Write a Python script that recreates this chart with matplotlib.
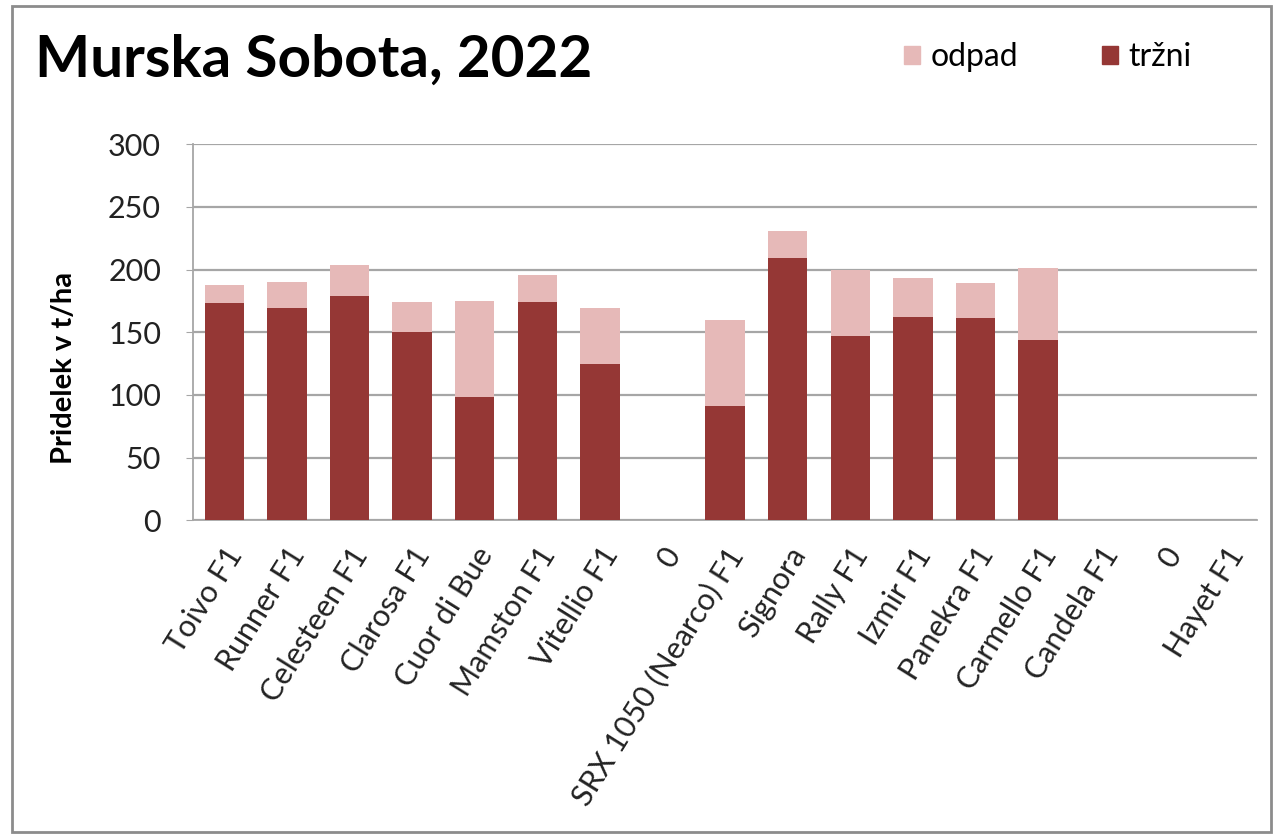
import matplotlib.pyplot as plt
import matplotlib.patches as mpatches
import numpy as np

plt.rcParams['font.family'] = ['Lato', 'DejaVu Sans']

sorte = ["Toivo F1", "Runner F1", "Celesteen F1", "Clarosa F1", "Cuor di Bue",
         "Mamston F1", "Vitellio F1", "0", "SRX 1050 (Nearco) F1", "Signora",
         "Rally F1", "Izmir F1", "Panekra F1", "Carmello F1", "Candela F1",
         "0", "Hayet F1"]
trzni = [173, 169, 179, 150, 98, 174, 125, 0, 91, 209, 147, 162, 161, 144, 0, 0, 0]
odpad = [15, 21, 25, 24, 77, 22, 44, 0, 69, 22, 53, 31, 28, 57, 0, 0, 0]

col_trzni = "#953735"
col_odpad = "#E6B9B8"

fig = plt.figure(figsize=(12.81, 8.39), dpi=100)
ax = fig.add_axes([0.1507, 0.380, 0.8306, 0.448])

x = np.arange(len(sorte))
ax.bar(x, trzni, width=0.63, color=col_trzni, label="tržni", zorder=3)
ax.bar(x, odpad, width=0.63, bottom=trzni, color=col_odpad, label="odpad", zorder=3)

ax.set_xlim(-0.5, len(sorte) - 0.5)
ax.set_ylim(0, 300)
ax.set_yticks(range(0, 301, 50))
ax.yaxis.grid(True, color="#a6a6a6", linewidth=1.6, zorder=0)
ax.set_axisbelow(True)
for s in ["top", "right"]:
    ax.spines[s].set_visible(False)
ax.spines["left"].set_color("#a6a6a6")
ax.spines["bottom"].set_color("#a6a6a6")
ax.spines["left"].set_linewidth(1.3)
ax.spines["bottom"].set_linewidth(1.3)
ax.tick_params(axis="y", labelsize=22, length=5, color="#a6a6a6", pad=18, labelcolor="#222222")
ax.tick_params(axis="x", length=0, pad=16)

ax.set_xticks(x)
ax.set_xticklabels(sorte, rotation=58, ha="right", rotation_mode="anchor",
                   fontsize=22, color="#222222")

ax.set_ylabel("Pridelek v t/ha", fontsize=21, fontweight="bold")
ax.yaxis.set_label_coords(-0.109, 0.404)

fig.text(0.027, 0.928, "Murska Sobota, 2022", fontsize=42, fontweight="bold",
         va="center", ha="left")

h = [mpatches.Patch(color=col_odpad), mpatches.Patch(color=col_trzni)]
fig.legend(h, ["odpad", "tržni"], loc="center", bbox_to_anchor=(0.818, 0.932),
           ncol=2, frameon=False, fontsize=23, handlelength=0.5, handleheight=0.5,
           handletextpad=0.35, columnspacing=2.6)

# outer frame of the chart
fig.patches.append(mpatches.Rectangle((0.009, 0.008), 0.983, 0.985, transform=fig.transFigure,
                                      fill=False, edgecolor="#8c8c8c", linewidth=2))

fig.savefig("out.png", dpi=100)
